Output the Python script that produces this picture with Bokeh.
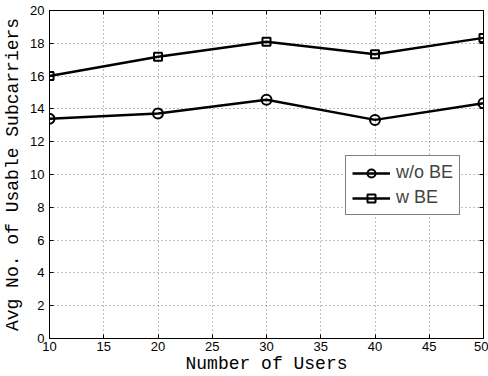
from bokeh.plotting import figure
from bokeh.models import LinearAxis, Legend, LegendItem, FixedTicker, Range1d, CustomJSTickFormatter
from bokeh.embed import file_html
from bokeh.resources import INLINE

users = [10, 20, 30, 40, 50]
wo_be = [13.4, 13.72, 14.56, 13.33, 14.35]
w_be = [16.0, 17.18, 18.1, 17.33, 18.33]
x_ticks = [10, 15, 20, 25, 30, 35, 40, 45, 50]
y_ticks = [0, 2, 4, 6, 8, 10, 12, 14, 16, 18, 20]

p = figure(width=488, height=376, output_backend="svg", toolbar_location=None,
           x_range=Range1d(10, 50), y_range=Range1d(0, 20),
           min_border_left=10, min_border_right=5, min_border_top=10, min_border_bottom=10)
p.background_fill_color = "white"
p.outline_line_color = "black"
p.outline_line_width = 1

for ax in (p.xaxis[0], p.yaxis[0]):
    ax.axis_line_color = "black"
    ax.major_tick_in = 4
    ax.major_tick_out = 0
    ax.minor_tick_line_color = None
    ax.major_label_text_font = "Liberation Sans"
    ax.major_label_text_font_size = "13px"
    ax.major_label_text_color = "black"
    ax.axis_label_text_font = "Liberation Mono"
    ax.axis_label_text_font_size = "18px"
    ax.axis_label_text_font_style = "normal"
    ax.axis_label_text_color = "black"
p.xaxis[0].ticker = FixedTicker(ticks=x_ticks)
p.yaxis[0].ticker = FixedTicker(ticks=y_ticks)
p.xaxis[0].axis_label = "Number of Users"
p.yaxis[0].axis_label = "Avg No. of Usable Subcarriers"
p.xaxis[0].major_label_standoff = 3
p.yaxis[0].major_label_standoff = 5
p.xaxis[0].axis_label_standoff = 0
p.yaxis[0].axis_label_standoff = 4

for loc, tick in (("right", y_ticks), ("above", x_ticks)):
    a = LinearAxis(ticker=FixedTicker(ticks=tick), major_tick_in=4, major_tick_out=0,
                   minor_tick_line_color=None,
                   formatter=CustomJSTickFormatter(code="return ''"),
                   axis_line_color=None, major_label_standoff=0)
    p.add_layout(a, loc)

for g in (p.xgrid[0], p.ygrid[0]):
    g.grid_line_color = "black"
    g.grid_line_alpha = 0.5
    g.grid_line_dash = "1 3"
    g.grid_line_width = 1
p.xgrid[0].ticker = FixedTicker(ticks=x_ticks)
p.ygrid[0].ticker = FixedTicker(ticks=y_ticks)

l1 = p.line(users, wo_be, line_color="black", line_width=2.5)
m1 = p.scatter(users, wo_be, marker="circle", size=10, line_color="black",
               line_width=2, fill_color=None)
l2 = p.line(users, w_be, line_color="black", line_width=2.5)
m2 = p.scatter(users, w_be, marker="square", size=8, line_color="black",
               line_width=2, fill_color=None)

legend = Legend(items=[LegendItem(label="w/o BE", renderers=[l1, m1]),
                       LegendItem(label="w BE", renderers=[l2, m2])],
                location=(296, 123))
legend.border_line_color = "black"
legend.border_line_width = 1
legend.label_text_font = "Liberation Sans"
legend.label_text_font_size = "18px"
legend.label_height = 20
legend.glyph_width = 38
legend.glyph_height = 20
legend.spacing = 4
legend.padding = 6
legend.margin = 0
legend.label_standoff = 6
legend.background_fill_alpha = 1
p.add_layout(legend, "center")

open("out.html", "w").write(file_html(p, INLINE))
